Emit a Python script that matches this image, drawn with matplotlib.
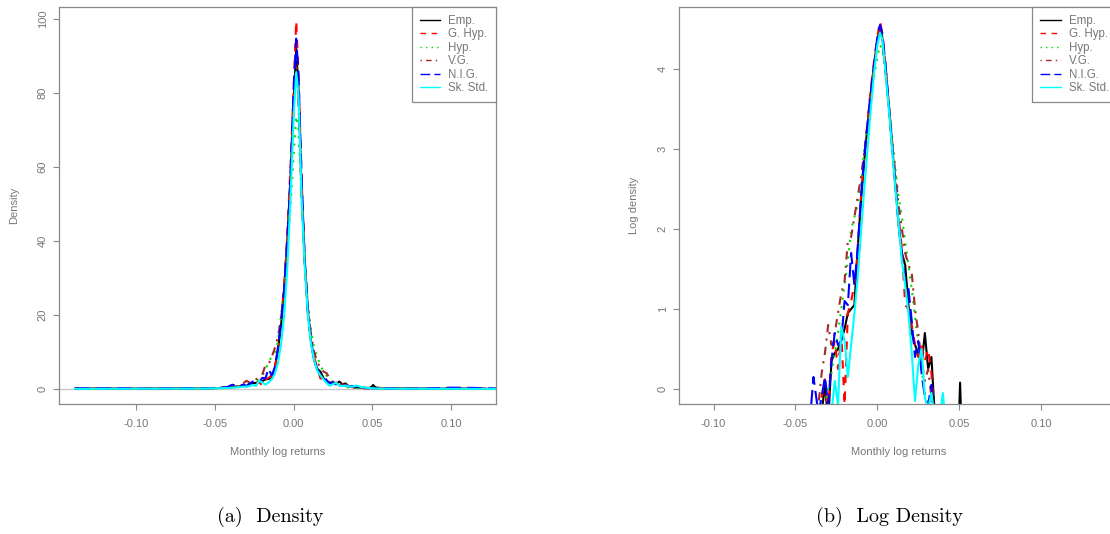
import numpy as np
import matplotlib.pyplot as plt
from matplotlib.ticker import FormatStrFormatter

plt.rcParams['font.family'] = ['Liberation Sans', 'DejaVu Sans']
plt.rcParams['axes.unicode_minus'] = False

# monthly log returns grid (shared by all curves)
returns = [-0.139, -0.125, -0.11, -0.095, -0.08, -0.065, -0.055, -0.047, -0.042, -0.039,
           -0.036, -0.034, -0.032, -0.030, -0.028, -0.026, -0.024, -0.022, -0.020, -0.018,
           -0.016, -0.014, -0.012, -0.010, -0.008, -0.006, -0.004, -0.002, 0.000, 0.0016,
           0.003, 0.005, 0.007, 0.009, 0.011, 0.013, 0.015, 0.017, 0.019, 0.021,
           0.023, 0.025, 0.027, 0.029, 0.031, 0.033, 0.035, 0.037, 0.040, 0.043,
           0.047, 0.049, 0.0505, 0.052, 0.056, 0.065, 0.08, 0.10, 0.115, 0.13]

# log densities
logd_emp = [-2.2, -2.0, -2.6, -2.3, -1.9, -1.7, -1.6, -1.3, -0.9, -0.6,
            -0.5, -0.3, 0.05, -0.4, 0.35, 0.45, 0.50, 0.62, 0.75, 0.95,
            1.00, 1.05, 1.75, 2.35, 2.85, 3.30, 3.70, 4.05, 4.35, 4.52,
            4.40, 4.00, 3.55, 3.05, 2.55, 2.05, 1.70, 1.55, 1.05, 0.70,
            0.55, 0.45, 0.30, 0.70, 0.25, 0.40, -0.30, -0.60, -0.80, -1.00,
            -1.40, -0.90, 0.08, -0.90, -1.40, -1.70, -2.00, -2.30, -2.60, -2.80]
logd_ghyp = [-1.8, -1.9, -2.4, -2.5, -2.1, -1.9, -1.5, -1.4, -1.0, -0.7,
             -0.4, -0.1, 0.12, -0.3, 0.45, 0.60, 0.25, 0.70, -0.20, 0.95,
             1.10, 1.30, 1.70, 2.40, 2.90, 3.35, 3.75, 4.10, 4.40, 4.60,
             4.45, 4.05, 3.55, 3.00, 2.55, 2.15, 1.75, 1.05, 1.00, 0.80,
             0.55, 0.40, 0.55, 0.35, 0.50, 0.20, -0.35, -0.70, -1.00, -1.20,
             -1.50, -1.70, -1.80, -1.60, -1.50, -1.90, -2.20, -2.10, -1.90, -2.40]
logd_hyp = [-3.5, -3.4, -3.2, -3.0, -2.7, -2.3, -1.9, -1.5, -1.1, -0.85,
            -0.6, -0.4, -0.2, 0.0, 0.2, 0.45, 0.7, 1.0, 1.3, 1.6,
            2.0, 2.15, 2.30, 2.55, 3.0, 3.3, 3.6, 3.9, 4.15, 4.30,
            4.25, 3.95, 3.55, 3.15, 2.75, 2.40, 2.15, 1.85, 1.55, 1.25,
            0.90, 0.55, 0.25, -0.05, -0.30, -0.55, -0.80, -1.00, -1.30, -1.60,
            -2.00, -2.20, -2.30, -2.40, -2.60, -2.90, -3.20, -3.50, -3.70, -3.90]
logd_vg = [-2.0, -2.3, -2.1, -2.5, -2.0, -1.8, -1.4, -1.1, -0.8, -0.5,
           -0.2, 0.2, 0.45, 0.80, 0.55, 0.70, 0.95, 1.20, 1.35, 1.85,
           1.90, 2.15, 2.40, 2.65, 2.95, 3.30, 3.70, 4.05, 4.35, 4.50,
           4.35, 3.95, 3.55, 3.10, 2.70, 2.30, 2.00, 1.70, 1.55, 1.45,
           1.00, 0.70, 0.35, 0.10, 0.25, -0.10, -0.50, -0.90, -1.20, -1.40,
           -1.60, -1.80, -1.90, -2.00, -2.10, -2.20, -2.40, -2.60, -2.70, -2.90]
logd_nig = [-1.6, -1.8, -1.5, -2.2, -2.0, -1.7, -1.5, -1.2, -0.6, 0.15,
            -0.3, -0.1, 0.15, -0.2, 0.35, 0.70, 0.55, 0.60, 1.10, 1.05,
            1.70, 1.30, 1.75, 2.40, 2.90, 3.30, 3.70, 4.05, 4.40, 4.55,
            4.45, 4.05, 3.55, 3.05, 2.55, 2.05, 1.65, 1.35, 1.25, 0.85,
            0.40, 0.60, 0.20, -0.10, -0.20, 0.05, -0.35, -0.20, -0.60, -1.00,
            -1.30, -1.50, -1.70, -1.80, -1.90, -2.20, -2.30, -1.00, -1.20, -2.40]
logd_skstd = [-3.0, -2.9, -2.7, -2.6, -2.4, -2.2, -1.9, -1.6, -1.3, -1.0,
              -0.8, -0.6, -0.5, -0.4, -0.3, 0.10, -0.20, 0.78, 0.60, 0.15,
              0.55, 0.95, 1.40, 1.95, 2.50, 3.00, 3.50, 3.95, 4.30, 4.45,
              4.38, 3.95, 3.50, 3.00, 2.50, 2.05, 1.60, 1.30, 0.95, 0.45,
              -0.15, 0.30, 0.50, -0.10, -0.25, -0.05, -0.35, -0.50, -0.05, -0.70,
              -1.20, -1.50, -1.80, -2.00, -2.20, -2.50, -2.70, -3.00, -3.20, -3.50]

labels = ['Emp.', 'G. Hyp.', 'Hyp.', 'V.G.', 'N.I.G.', 'Sk. Std.']
colors = ['black', '#FF0000', '#00E000', '#A52A2A', '#0000FF', '#00FFFF']
dashes = [(), (4, 4), (1, 3), (1, 3, 4, 3), (7, 3), ()]
series = [logd_emp, logd_ghyp, logd_hyp, logd_vg, logd_nig, logd_skstd]

grey = '#777777'
fig = plt.figure(figsize=(11.1, 5.34), dpi=100)
ax1 = fig.add_axes([59.3 / 1110, 1 - 404 / 534, 437 / 1110, 397 / 534])
ax2 = fig.add_axes([679.3 / 1110, 1 - 404 / 534, 437.7 / 1110, 397 / 534])

x = np.array(returns)
ax1.axhline(0, color='#C8C8C8', lw=1, zorder=0)
for ys, lab, c, d in zip(series, labels, colors, dashes):
    ly = np.array(ys)
    # panel (a) is the same curve on the density scale
    ax1.plot(x, np.exp(ly), color=c, lw=1.5, dashes=d, label=lab)
    ax2.plot(x, ly, color=c, lw=1.5, dashes=d, label=lab)

ax1.set_xlim(-0.149, 0.1288)
ax1.set_ylim(-4.05, 103.2)
ax1.set_yticks([0, 20, 40, 60, 80, 100])
ax1.set_ylabel('Density')
ax2.set_xlim(-0.1209, 0.1463)
ax2.set_ylim(-0.1875, 4.775)
ax2.set_yticks([0, 1, 2, 3, 4])
ax2.set_ylabel('Log density')

for ax in (ax1, ax2):
    ax.set_xticks([-0.10, -0.05, 0.00, 0.05, 0.10])
    ax.xaxis.set_major_formatter(FormatStrFormatter('%.2f'))
    ax.set_xlabel('Monthly log returns', color=grey, fontsize=8)
    ax.xaxis.set_label_coords(0.5, -43 / 397)
    ax.yaxis.set_label_coords(-40 / 437, 0.5)
    ax.yaxis.label.set_color(grey)
    ax.yaxis.label.set_fontsize(8)
    for s in ax.spines.values():
        s.set_color('#888888')
        s.set_linewidth(0.9)
    ax.tick_params(axis='both', colors='#888888', labelcolor=grey, labelsize=8,
                   length=4.3, width=0.8, direction='out')
    ax.tick_params(axis='x', pad=6.5)
    ax.tick_params(axis='y', pad=4)
    for t in ax.get_yticklabels():
        t.set_rotation(90)
        t.set_va('center')
    leg = ax.legend(loc='upper right', borderaxespad=0, fontsize=8.3, frameon=True,
                    fancybox=False, framealpha=1, edgecolor='#888888',
                    handlelength=1.75, handletextpad=0.7, labelspacing=0.12,
                    borderpad=0.7)
    leg.get_frame().set_linewidth(0.9)
    for t in leg.get_texts():
        t.set_color(grey)
    for h in leg.get_lines():
        h.set_linewidth(1)

fig.text(270 / 1110, 1 - 517 / 534, '(a)  Density', family='cmr10', fontsize=14.5,
         ha='center', va='center')
fig.text(890 / 1110, 1 - 517 / 534, '(b)  Log Density', family='cmr10', fontsize=14.5,
         ha='center', va='center')

fig.savefig('out.png', dpi=100)
